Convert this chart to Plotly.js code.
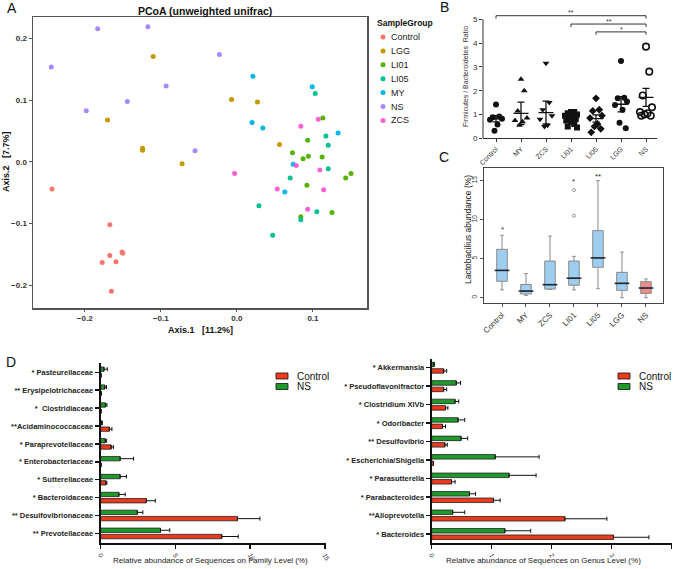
<!DOCTYPE html>
<html>
<head>
<meta charset="utf-8">
<script src="https://cdn.plot.ly/plotly-3.0.1.min.js"></script>
<style>body{margin:0;background:#fff}#chart{width:675px;height:569px}</style>
</head>
<body>
<div id="chart"></div>
<script>
// A: PCoA coordinates, one pair of arrays per sample group
const groupsA = ['Control', 'LGG', 'LI01', 'LI05', 'MY', 'NS', 'ZCS'];
const colorsA = ['#F8766D', '#C49A00', '#53B400', '#00C094', '#00B6EB', '#A58AFF', '#FB61D7'];
const axis1Control = [-0.243, -0.167, -0.167, -0.177, -0.159, -0.151, -0.150, -0.165];
const axis2Control = [-0.044, -0.102, -0.152, -0.163, -0.162, -0.146, -0.148, -0.210];
const axis1LGG = [-0.110, -0.170, -0.124, -0.124, -0.072, -0.007, 0.027, 0.056];
const axis2LGG = [0.171, 0.068, 0.022, 0.019, -0.003, 0.101, 0.097, 0.028];
const axis1LI01 = [0.113, 0.093, 0.073, 0.087, 0.094, 0.112, 0.092, 0.143, 0.150, 0.125, 0.084];
const axis2LI01 = [0.071, 0.035, 0.015, 0.005, 0.009, 0.008, -0.038, -0.026, -0.019, -0.082, -0.089];
const axis1LI05 = [0.103, 0.117, 0.120, 0.120, 0.070, 0.029, 0.105, 0.084, 0.047];
const axis2LI05 = [0.111, 0.042, 0.027, -0.011, -0.026, -0.071, -0.081, -0.094, -0.119];
const axis1MY = [0.021, 0.099, 0.020, 0.034, 0.133, 0.074, 0.063];
const axis2MY = [0.139, 0.122, 0.064, 0.055, 0.047, -0.004, -0.049];
const axis1NS = [-0.244, -0.183, -0.117, -0.198, -0.144, -0.093, -0.023, -0.055];
const axis2NS = [0.154, 0.216, 0.219, 0.083, 0.098, 0.123, 0.174, 0.018];
const axis1ZCS = [0.084, 0.107, 0.078, 0.109, -0.003, 0.053, 0.114, 0.093];
const axis2ZCS = [0.058, 0.069, -0.006, -0.013, -0.019, -0.044, -0.045, -0.077];
const pcoaX = [axis1Control, axis1LGG, axis1LI01, axis1LI05, axis1MY, axis1NS, axis1ZCS];
const pcoaY = [axis2Control, axis2LGG, axis2LI01, axis2LI05, axis2MY, axis2NS, axis2ZCS];

// B: Firmicutes / Bacteroidetes ratio
const groupsB = ['Control', 'MY', 'ZCS', 'LI01', 'LI05', 'LGG', 'NS'];
const ratioControl = [1.42, 0.92, 0.88, 0.82, 0.78, 0.58, 0.32];
const ratioMY = [2.48, 2.0, 1.15, 0.85, 0.75, 0.7, 0.55];
const ratioZCS = [3.15, 1.5, 1.2, 0.95, 0.8, 0.55, 0.5];
const ratioLI01 = [1.1, 1.1, 1.05, 1.0, 0.95, 0.9, 0.85, 0.8, 0.75, 0.7, 0.6, 0.5, 0.45];
const ratioLI05 = [1.68, 1.2, 1.15, 0.95, 0.85, 0.6, 0.5, 0.4, 0.25];
const ratioLGG = [3.25, 1.7, 1.68, 1.55, 1.4, 1.2, 0.65, 0.42];
const ratioNS = [3.85, 2.8, 1.8, 1.3, 1.1, 1.05, 1.0, 0.95, 0.95];
const ratioMean = [0.82, 1.05, 1.08, 0.82, 0.83, 1.43, 1.72];
const ratioSem = [0.13, 0.47, 0.48, 0.1, 0.15, 0.32, 0.38];
const ratioSymbols = ['circle', 'triangle-up', 'triangle-down', 'square', 'diamond', 'circle', 'circle-open'];
const bracketFrom = [0, 3, 4];
const bracketTo = [6, 6, 6];
const bracketY = [5.15, 4.8, 4.47];
const bracketLabel = ['**', '**', '*'];

// C: Lactobacillus abundance boxes
const lacQ1 = [2.1, 0.47, 1.1, 1.6, 3.9, 0.94, 0.55];
const lacMedian = [3.5, 0.85, 1.67, 2.5, 5.1, 1.84, 1.24];
const lacQ3 = [6.2, 1.7, 4.7, 4.7, 8.6, 3.25, 2.05];
const lacLow = [1.0, 0.3, 1.05, 1.0, 1.15, 0.0, 0.0];
const lacHigh = [8.0, 3.1, 7.9, 5.3, 15.0, 5.85, 2.4];
const lacOutlierGroup = [3, 3];
const lacOutlier = [10.5, 13.8];
const lacStarGroup = [0, 3, 4];
const lacStarY = [8.7, 14.9, 15.5];
const lacStarLabel = ['*', '*', '**'];

// D: family level (bottom to top)
const families = ['** Prevotellaceae', '** Desulfovibrionaceae', '* Bacteroidaceae', '* Sutterellaceae',
  '* Enterobacteriaceae', '* Paraprevotellaceae', '**Acidaminococcaceae', '*  Clostridiaceae',
  '** Erysipelotrichaceae', '* Pasteurellaceae'];
const famControl = [8.1, 9.15, 3.05, 0.35, 0.02, 0.7, 0.58, 0.02, 0.03, 0.02];
const famControlErr = [1.1, 1.5, 0.6, 0.06, 0, 0.15, 0.17, 0, 0, 0];
const famNS = [4.0, 2.45, 1.22, 1.3, 1.3, 0.3, 0.08, 0.32, 0.27, 0.22];
const famNSErr = [0.62, 0.37, 0.42, 0.42, 0.9, 0.1, 0.03, 0.1, 0.12, 0.22];

// D: genus level (bottom to top)
const genera = ['* Bacteroides', '**Alloprevotella', '* Parabacteroides', '* Parasutterella',
  '* Escherichia/Shigella', '** Desulfovibrio', '* Odoribacter', '* Clostridium XIVb',
  '* Pseudoflavonifractor', '* Akkermansia'];
const genControl = [3.03, 2.22, 1.03, 0.33, 0.03, 0.22, 0.18, 0.23, 0.2, 0.2];
const genControlErr = [0.59, 0.7, 0.11, 0.06, 0, 0.04, 0.05, 0.04, 0.05, 0.05];
const genNS = [1.22, 0.35, 0.63, 1.29, 1.06, 0.49, 0.44, 0.39, 0.41, 0.04];
const genNSErr = [0.43, 0.2, 0.1, 0.45, 0.73, 0.11, 0.11, 0.06, 0.07, 0];

const RED = '#ee3a1c', GREEN = '#1f9a2a';
const FONT = 'Liberation Sans, Arial, sans-serif';
const W = 675, H = 569;
const fx = p => p / W;
const fy = p => 1 - p / H;

const traces = [];

// A
groupsA.forEach((g, i) => {
  traces.push({
    type: 'scatter', mode: 'markers', x: pcoaX[i], y: pcoaY[i], name: g,
    xaxis: 'x', yaxis: 'y', showlegend: false,
    marker: {color: colorsA[i], size: 5}
  });
});

// B points, spread sideways a little like a dot plot
const spread = [0, 0.13, -0.13, 0.24, -0.24, 0.06, -0.06, 0.19, -0.19];
[ratioControl, ratioMY, ratioZCS, ratioLI01, ratioLI05, ratioLGG, ratioNS].forEach((vals, i) => {
  traces.push({
    type: 'scatter', mode: 'markers', xaxis: 'x2', yaxis: 'y2', showlegend: false,
    x: vals.map((v, j) => i + spread[j % spread.length]), y: vals,
    marker: {symbol: ratioSymbols[i], color: '#111', size: i === 6 ? 6.5 : 6,
      line: {color: '#111', width: i === 6 ? 1.6 : 0}}
  });
});

// B mean +- sem
const mx = [], my = [];
ratioMean.forEach((m, i) => {
  const s = ratioSem[i];
  mx.push(i - 0.3, i + 0.3, null, i, i, null, i - 0.14, i + 0.14, null, i - 0.14, i + 0.14, null);
  my.push(m, m, null, m - s, m + s, null, m + s, m + s, null, m - s, m - s, null);
});
traces.push({type: 'scatter', mode: 'lines', x: mx, y: my, xaxis: 'x2', yaxis: 'y2',
  showlegend: false, line: {color: '#111', width: 1.3}});

// C boxes
const blueIdx = [0, 1, 2, 3, 4, 5];
const pick = (arr, idx) => idx.map(i => arr[i]);
[[blueIdx, '#9fcdf0'], [[6], '#f08c8c']].forEach(([idx, fill]) => {
  traces.push({
    type: 'box', xaxis: 'x3', yaxis: 'y3', showlegend: false,
    x: idx, q1: pick(lacQ1, idx), median: pick(lacMedian, idx), q3: pick(lacQ3, idx),
    lowerfence: pick(lacLow, idx), upperfence: pick(lacHigh, idx),
    width: 0.44, whiskerwidth: 0.35, boxpoints: false,
    fillcolor: fill, line: {color: '#8a8a8a', width: 1}
  });
});
traces.push({type: 'scatter', mode: 'markers', xaxis: 'x3', yaxis: 'y3', showlegend: false,
  x: groupsB.map((g, i) => i), y: lacMedian,
  marker: {symbol: 'line-ew', size: 10.5, line: {color: '#1a2630', width: 1.6}}});
traces.push({type: 'scatter', mode: 'markers', xaxis: 'x3', yaxis: 'y3', showlegend: false,
  x: lacOutlierGroup, y: lacOutlier,
  marker: {symbol: 'circle-open', size: 3, color: '#9a9a9a', line: {color: '#9a9a9a', width: 1}}});

// D bars
const zeros = n => new Array(n).fill(0);
const barPair = (cats, ctrl, ctrlErr, ns, nsErr, xa, ya) => [
  {type: 'bar', orientation: 'h', name: 'Control', y: cats, x: ctrl, xaxis: xa, yaxis: ya,
    showlegend: false, marker: {color: RED, line: {color: '#222', width: 0.8}},
    error_x: {type: 'data', symmetric: false, array: ctrlErr, arrayminus: zeros(cats.length),
      color: '#111', thickness: 1, width: 2}},
  {type: 'bar', orientation: 'h', name: 'NS', y: cats, x: ns, xaxis: xa, yaxis: ya,
    showlegend: false, marker: {color: GREEN, line: {color: '#222', width: 0.8}},
    error_x: {type: 'data', symmetric: false, array: nsErr, arrayminus: zeros(cats.length),
      color: '#111', thickness: 1, width: 2}}
];
traces.push(...barPair(families, famControl, famControlErr, famNS, famNSErr, 'x4', 'y4'));
traces.push(...barPair(genera, genControl, genControlErr, genNS, genNSErr, 'x5', 'y5'));

const shapes = [];
const annotations = [];
const note = (text, x, y, font, extra) => annotations.push(Object.assign({
  text, x: fx(x), y: fy(y), xref: 'paper', yref: 'paper', showarrow: false,
  xanchor: 'center', yanchor: 'middle', font: Object.assign({family: FONT, size: 9, color: '#222'}, font)
}, extra || {}));

// panel letters
note('A', 12, 8, {size: 14, color: '#111'});
note('B', 444, 7, {size: 14, color: '#111'});
note('C', 444, 157, {size: 14, color: '#111'});
note('D', 11, 362, {size: 14, color: '#111'});

// A text
note('PCoA (unweighted unifrac)', 205, 11, {size: 10.5, weight: 'bold', color: '#111'});
note('Axis.1   [11.2%]', 200, 330, {size: 9, weight: 'bold', color: '#111'});
note('Axis.2   [7.7%]', 6, 162, {size: 9, weight: 'bold', color: '#111'}, {textangle: -90});
note('SampleGroup', 375, 23, {size: 8.5, weight: 'bold', color: '#111'}, {xanchor: 'left'});
groupsA.forEach((g, i) => {
  const cy = 37 + 13.9 * i;
  shapes.push({type: 'circle', xref: 'paper', yref: 'paper', x0: fx(380.5), x1: fx(385.5),
    y0: fy(cy + 2.5), y1: fy(cy - 2.5), fillcolor: colorsA[i], line: {width: 0}});
  note(g, 389, cy, {size: 9, color: '#222'}, {xanchor: 'left'});
});

// B text and brackets
note('Firmicutes / Bacteroidetes  Ratio', 465, 77, {size: 7, color: '#333'}, {textangle: -90});
shapes.push({type: 'line', xref: 'paper', yref: 'y2', x0: fx(483), x1: fx(483), y0: 0, y1: 5,
  line: {color: '#333', width: 1}});
bracketFrom.forEach((a, i) => {
  const b = bracketTo[i], h = bracketY[i];
  shapes.push({type: 'path', xref: 'x2', yref: 'y2',
    path: `M ${a},${h - 0.12} V ${h} H ${b} V ${h - 0.12}`, line: {color: '#333', width: 1}});
  annotations.push({text: bracketLabel[i], x: (a + b) / 2, y: h + 0.12, xref: 'x2', yref: 'y2',
    showarrow: false, font: {family: FONT, size: 7, color: '#333'}});
});

// C text
note('Lactobacilius abundance (%)', 468, 230, {size: 8.5, color: '#222'}, {textangle: -90});
lacStarGroup.forEach((g, i) => {
  annotations.push({text: lacStarLabel[i], x: g, y: lacStarY[i], xref: 'x3', yref: 'y3',
    showarrow: false, font: {family: FONT, size: 8, color: '#333'}});
});

// D text and legends
note('Relative abundance of Sequences on Family Level (%)', 210, 560, {size: 8, color: '#222'});
note('Relative abundance of Sequences on Genus Level (%)', 543, 560, {size: 8, color: '#222'});
[276, 618].forEach(lx => {
  [[RED, 'Control', 376], [GREEN, 'NS', 386.5]].forEach(([c, t, cy]) => {
    shapes.push({type: 'rect', xref: 'paper', yref: 'paper', x0: fx(lx), x1: fx(lx + 12),
      y0: fy(cy + 3), y1: fy(cy - 3), fillcolor: c, line: {color: '#111', width: 0.8}});
    note(t, lx + 19, cy, {size: 10, color: '#111'}, {xanchor: 'left'});
  });
});

const baseTick = {family: FONT, color: '#333'};
const layout = {
  width: W, height: H, autosize: false,
  margin: {l: 0, r: 0, t: 0, b: 0},
  paper_bgcolor: '#fff', plot_bgcolor: 'rgba(0,0,0,0)',
  font: {family: FONT},
  showlegend: false,
  barmode: 'group', bargap: 0.3, bargroupgap: 0.3,
  xaxis: {domain: [fx(33), fx(367)], anchor: 'y', range: [-0.268, 0.171],
    tickvals: [-0.2, -0.1, 0, 0.1], tickformat: '.1f', showgrid: false, zeroline: false,
    showline: true, mirror: true, linecolor: '#555', linewidth: 1.5,
    ticks: 'outside', ticklen: 2, tickcolor: '#555',
    tickfont: Object.assign({size: 8, weight: 'bold'}, baseTick)},
  yaxis: {domain: [fy(308), fy(17)], anchor: 'x', range: [-0.237, 0.235],
    tickvals: [-0.2, -0.1, 0, 0.1, 0.2], tickformat: '.1f', showgrid: false, zeroline: false,
    showline: true, mirror: true, linecolor: '#555', linewidth: 1.5,
    ticks: 'outside', ticklen: 3, tickcolor: '#555',
    tickfont: Object.assign({size: 8, weight: 'bold'}, baseTick)},
  xaxis2: {domain: [fx(483), fx(657)], anchor: 'y2', range: [-0.52, 6.44],
    tickvals: groupsB.map((g, i) => i), ticktext: groupsB, tickangle: -45,
    showgrid: false, zeroline: false, showline: true, linecolor: '#333', linewidth: 1,
    ticks: 'outside', ticklen: 3, tickcolor: '#333', tickfont: Object.assign({size: 7}, baseTick)},
  yaxis2: {domain: [fy(138.3), fy(10)], anchor: 'x2', range: [0, 5.39],
    tickvals: [0, 1, 2, 3, 4, 5], showgrid: false, zeroline: false, showline: false,
    ticks: 'outside', ticklen: 3, tickcolor: '#333', tickfont: Object.assign({size: 8}, baseTick)},
  xaxis3: {domain: [fx(484), fx(663)], anchor: 'y3', range: [-0.75, 6.71],
    tickvals: groupsB.map((g, i) => i), ticktext: groupsB, tickangle: -45,
    showgrid: false, zeroline: false, showline: true, mirror: true, linecolor: '#444', linewidth: 1.2,
    ticks: 'outside', ticklen: 3, tickcolor: '#555', tickfont: Object.assign({size: 8}, baseTick)},
  yaxis3: {domain: [fy(303), fy(168)], anchor: 'x3', range: [-0.68, 16.63],
    tickvals: [0, 5, 10, 15], tickangle: -90, showgrid: false, zeroline: false,
    showline: true, mirror: true, linecolor: '#444', linewidth: 1.2,
    ticks: 'outside', ticklen: 3, tickcolor: '#555', tickfont: Object.assign({size: 6.5}, baseTick)},
  xaxis4: {domain: [fx(100.7), fx(326)], anchor: 'y4', range: [0, 15.07],
    tickvals: [0, 5, 10, 15], tickangle: 60, showgrid: false, zeroline: false,
    showline: true, linecolor: '#111', linewidth: 2,
    ticks: 'outside', ticklen: 4, tickwidth: 1.5, tickcolor: '#111', tickfont: Object.assign({size: 6.5}, baseTick)},
  yaxis4: {domain: [fy(542.7), fy(363)], anchor: 'x4', type: 'category', categoryorder: 'array',
    categoryarray: families, range: [-0.52, 9.52], showgrid: false, zeroline: false,
    showline: true, linecolor: '#111', linewidth: 2,
    ticks: 'outside', ticklen: 4, tickwidth: 1.5, tickcolor: '#111',
    tickfont: {family: FONT, size: 7.5, weight: 'bold', color: '#222'}},
  xaxis5: {domain: [fx(431.7), fx(672)], anchor: 'y5', range: [0, 4.005],
    tickvals: [0, 1, 2, 3, 4], tickangle: 60, showgrid: false, zeroline: false,
    showline: true, linecolor: '#111', linewidth: 2,
    ticks: 'outside', ticklen: 4, tickwidth: 1.5, tickcolor: '#111', tickfont: Object.assign({size: 6.5}, baseTick)},
  yaxis5: {domain: [fy(542.7), fy(359)], anchor: 'x5', type: 'category', categoryorder: 'array',
    categoryarray: genera, range: [-0.47, 9.47], showgrid: false, zeroline: false,
    showline: true, linecolor: '#111', linewidth: 2,
    ticks: 'outside', ticklen: 4, tickwidth: 1.5, tickcolor: '#111',
    tickfont: {family: FONT, size: 7.5, weight: 'bold', color: '#222'}},
  shapes: shapes,
  annotations: annotations
};

Plotly.newPlot('chart', traces, layout, {displayModeBar: false, staticPlot: true});
</script>
</body>
</html>
